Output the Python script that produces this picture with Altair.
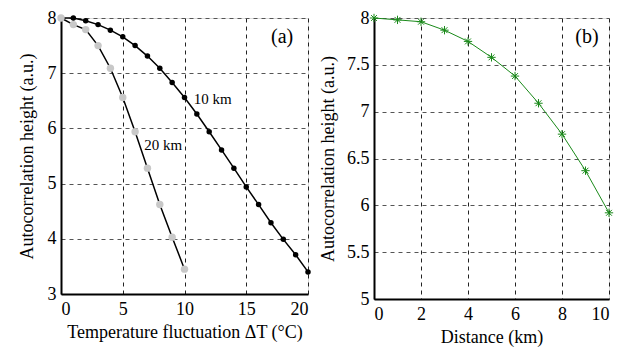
import altair as alt
import pandas as pd

# ---- data ----
t10 = [0, 1, 2, 3, 4, 5, 6, 7, 8, 9, 10, 11, 12, 13, 14, 15, 16, 17, 18, 19, 20]
h10 = [8.0, 8.0, 7.95, 7.88, 7.78, 7.66, 7.5, 7.31, 7.09, 6.83, 6.56, 6.26, 5.94,
       5.61, 5.28, 4.94, 4.62, 4.29, 3.99, 3.71, 3.40]
t20 = [0, 1, 2, 3, 4, 5, 6, 7, 8, 9, 10]
h20 = [8.0, 7.88, 7.79, 7.5, 7.09, 6.56, 5.94, 5.28, 4.62, 4.03, 3.45]
dist = [0, 1, 2, 3, 4, 5, 6, 7, 8, 9, 10]
hd = [8.0, 7.98, 7.96, 7.87, 7.75, 7.58, 7.38, 7.09, 6.76, 6.37, 5.92]

curve_labels = ["10 km", "20 km"]
curve_lx = [10.75, 6.75]
curve_ly = [6.54, 5.70]
panel_a = ["(a)"]
panel_a_x = [17.9]
panel_a_y = [7.66]
panel_b = ["(b)"]
panel_b_x = [9.06]
panel_b_y = [7.8]

FONT = "Liberation Serif"

d10 = pd.DataFrame({"t": t10, "h": h10})
d20 = pd.DataFrame({"t": t20, "h": h20})
dd = pd.DataFrame({"d": dist, "h": hd})
lab_c = pd.DataFrame({"x": curve_lx, "y": curve_ly, "s": curve_labels})
lab_a = pd.DataFrame({"x": panel_a_x, "y": panel_a_y, "s": panel_a})
lab_b = pd.DataFrame({"x": panel_b_x, "y": panel_b_y, "s": panel_b})

ax_common = dict(
    labelFont=FONT, titleFont=FONT, labelFontSize=18, titleFontSize=18,
    titleFontWeight="normal", labelColor="black", titleColor="black",
    domainColor="black", domainWidth=2, tickSize=0,
    gridDash=[4, 4], gridWidth=1,
)

sx_l = alt.Scale(domain=[0, 20], nice=False)
sy_l = alt.Scale(domain=[3, 8], nice=False, zero=False)
xl = alt.X("t:Q", scale=sx_l,
           axis=alt.Axis(title="Temperature fluctuation ΔT (°C)", values=[0, 5, 10, 15, 20],
                         gridColor="#222", labelPadding=6, titlePadding=5, **ax_common))
yl = alt.Y("h:Q", scale=sy_l,
           axis=alt.Axis(title="Autocorrelation height (a.u.)", values=[3, 4, 5, 6, 7, 8],
                         gridColor="#555", labelPadding=5, titlePadding=11, format="~g",
                         **ax_common))

line10 = alt.Chart(d10).mark_line(color="black", strokeWidth=1.5).encode(x=xl, y=yl)
line20 = alt.Chart(d20).mark_line(color="black", strokeWidth=1.5).encode(x=xl, y=yl)
pts10 = alt.Chart(d10).mark_circle(color="black", size=30, opacity=1).encode(x=xl, y=yl)
pts20 = alt.Chart(d20).mark_circle(color="#c8c8c8", size=55, opacity=1).encode(x=xl, y=yl)
txt_c = alt.Chart(lab_c).mark_text(font=FONT, fontSize=15, align="left", baseline="middle",
                                   color="black").encode(
    x=alt.X("x:Q", scale=sx_l), y=alt.Y("y:Q", scale=sy_l), text="s:N")
txt_a = alt.Chart(lab_a).mark_text(font=FONT, fontSize=20, align="center", baseline="middle",
                                   color="black").encode(
    x=alt.X("x:Q", scale=sx_l), y=alt.Y("y:Q", scale=sy_l), text="s:N")

left = alt.layer(line10, line20, pts10, pts20, txt_c, txt_a).properties(width=247, height=276)

sx_r = alt.Scale(domain=[0, 10], nice=False)
sy_r = alt.Scale(domain=[5, 8], nice=False, zero=False)
xr = alt.X("d:Q", scale=sx_r,
           axis=alt.Axis(title="Distance (km)", values=[0, 2, 4, 6, 8, 10],
                         gridColor="#222", labelPadding=6, titlePadding=5, **ax_common))
yr = alt.Y("h:Q", scale=sy_r,
           axis=alt.Axis(title="Autocorrelation height (a.u.)",
                         values=[5, 5.5, 6, 6.5, 7, 7.5, 8],
                         gridColor="#555", labelPadding=5, titlePadding=9.5, format="~g",
                         **ax_common))

STAR = "M-1,0L1,0M0,-1L0,1M-0.7,-0.7L0.7,0.7M-0.7,0.7L0.7,-0.7"
liner = alt.Chart(dd).mark_line(color="#1a8a1a", strokeWidth=1).encode(x=xr, y=yr)
ptsr = alt.Chart(dd).mark_point(shape=STAR, color="#1a8a1a", filled=False, size=70,
                                strokeWidth=1, opacity=1).encode(x=xr, y=yr)
txt_b = alt.Chart(lab_b).mark_text(font=FONT, fontSize=20, align="center", baseline="middle",
                                   color="black").encode(
    x=alt.X("x:Q", scale=sx_r), y=alt.Y("y:Q", scale=sy_r), text="s:N")

right = alt.layer(liner, ptsr, txt_b).properties(width=235, height=281)

chart = alt.hconcat(left, right, spacing=6).resolve_scale(x="independent", y="independent").properties(
    padding={"left": 9, "top": 0, "right": 2, "bottom": 2}
).configure_view(stroke="black", strokeWidth=1).configure(background="white")

chart.save("out.html", embed_options={"renderer": "svg", "actions": False})
